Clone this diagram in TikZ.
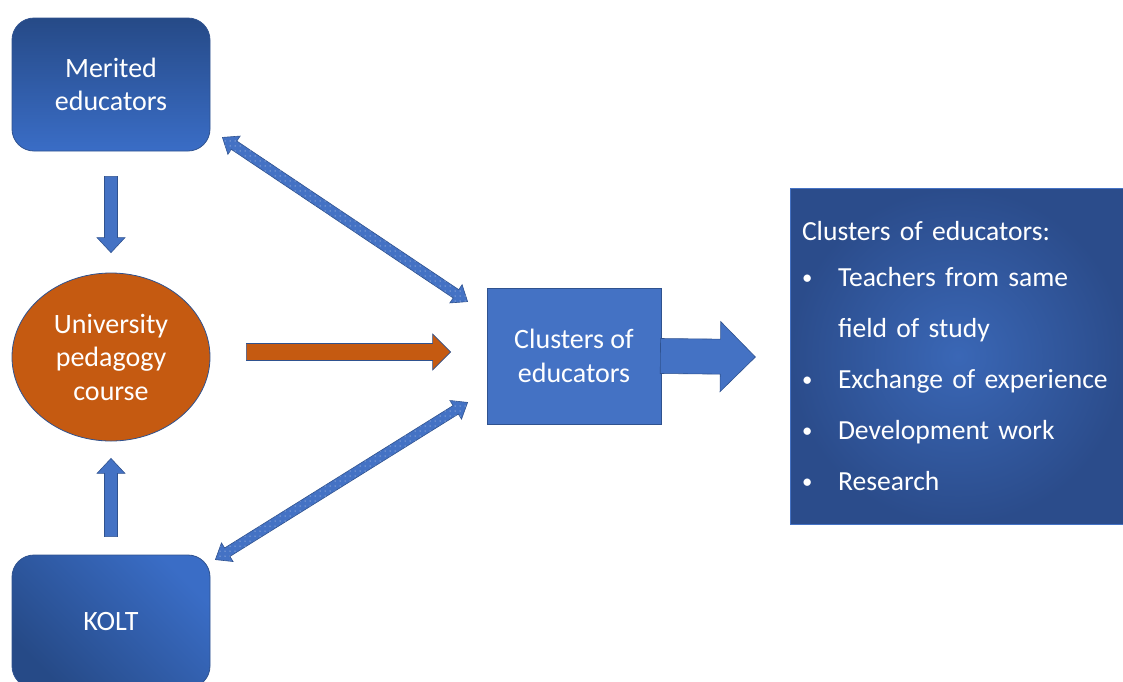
\documentclass[tikz,border=0pt]{standalone}
\usepackage{fontspec}
\setmainfont{Carlito}
\usetikzlibrary{calc,shapes.geometric,patterns.meta}

\definecolor{boxdark}{HTML}{264A87}
\definecolor{boxlight}{HTML}{3A6DC6}
\definecolor{flatblue}{HTML}{4472C4}
\definecolor{edgeblue}{HTML}{2F528F}
\definecolor{courseorange}{HTML}{C55A11}
\definecolor{listinner}{HTML}{3A67B6}
\definecolor{listouter}{HTML}{2B4C8B}

% block arrow: style, from, to, half shaft, half head, head length
\newcommand{\blockarrow}[6]{%
  \path[#1] let \p1=(#2), \p2=(#3),
    \n1={atan2(\y2-\y1,\x2-\x1)}, \n2={veclen(\x2-\x1,\y2-\y1)} in
    [shift={(\p1)}, rotate=\n1]
    (0pt,-#4pt) -- ({\n2-#6pt},-#4pt) -- ({\n2-#6pt},-#5pt) -- (\n2,0pt)
    -- ({\n2-#6pt},#5pt) -- ({\n2-#6pt},#4pt) -- (0pt,#4pt) -- cycle;}
% same with a head on both ends
\newcommand{\dblarrow}[6]{%
  \path[#1] let \p1=(#2), \p2=(#3),
    \n1={atan2(\y2-\y1,\x2-\x1)}, \n2={veclen(\x2-\x1,\y2-\y1)} in
    [shift={(\p1)}, rotate=\n1]
    (0pt,0pt) -- (#6pt,#5pt) -- (#6pt,#4pt) -- ({\n2-#6pt},#4pt) -- ({\n2-#6pt},#5pt)
    -- (\n2,0pt) -- ({\n2-#6pt},-#5pt) -- ({\n2-#6pt},-#4pt) -- (#6pt,-#4pt)
    -- (#6pt,-#5pt) -- cycle;}
\newcommand{\listbullet}{\makebox[36pt][l]{\raisebox{0.15ex}{\scalebox{0.75}{•}}}}

\tikzset{
  boxtext/.style={text=white, align=center, font=\fontsize{28}{33.5}\selectfont},
  roundbox/.style={boxtext, rectangle, rounded corners=22pt, draw=edgeblue, line width=0.8pt,
    minimum width=198pt, minimum height=133pt},
  blockfill/.style={fill=flatblue, draw=edgeblue, line width=0.6pt},
  orangefill/.style={fill=courseorange, draw=edgeblue, line width=0.6pt},
  dotfill/.style={blockfill, postaction={pattern={Dots[distance=5pt, radius=0.5pt]},
    pattern color=white!85!flatblue}},
}

\begin{document}
\begin{tikzpicture}[x=1pt, y=-1pt]
	\useasboundingbox (0,0) rectangle (1123,681);
	\clip (0,0) rectangle (1123,681);
	
	%Knoten links
	\node[roundbox, top color=boxdark, bottom color=boxlight] (merited) at (111,84.5) {Merited\\educators};
	\node[boxtext, ellipse, fill=courseorange, draw=edgeblue, line width=0.8pt, inner sep=0pt,
		minimum width=198pt, minimum height=168pt] (course) at (111,357) {University\\pedagogy\\course};
	\node[roundbox, top color=boxlight, bottom color=boxdark, shading angle=-45] (kolt) at (111,621.5) {KOLT};
	
	%Mitte und rechts
	\node[boxtext, rectangle, fill=flatblue, draw=edgeblue, line width=0.8pt,
		minimum width=174pt, minimum height=136pt] (cluster) at (574,356) {Clusters of\\educators};
	\node[rectangle, inner color=listinner, outer color=listouter, draw=flatblue, line width=1pt,
		minimum width=336pt, minimum height=336pt, inner xsep=12pt, text width=312pt,
		text=white, align=left, font=\fontsize{27.6}{51}\selectfont] (list) at (958,356)
		{Clusters of educators:\\[-5pt]
		 \listbullet Teachers from same\\
		 \hspace*{36pt}field of study\\
		 \listbullet Exchange of experience\\
		 \listbullet Development work\\
		 \listbullet Research};
	
	%Pfeile
	\coordinate (d1) at ($(merited.south)+(0,25)$);
	\coordinate (d2) at ($(course.north)+(0,-20)$);
	\coordinate (u1) at ($(kolt.north)+(0,-18)$);
	\coordinate (u2) at ($(course.south)+(0,17)$);
	\coordinate (o1) at ($(course.east)+(36,-5)$);
	\coordinate (o2) at ($(cluster.west)+(-36,-4)$);
	\coordinate (b1) at ($(cluster.east)+(-1,0)$);
	\coordinate (b2) at ($(cluster.east)+(94,1)$);
	\coordinate (t1) at ($(merited.south east)+(12,-14)$);
	\coordinate (t2) at ($(cluster.north west)+(-19,14)$);
	\coordinate (k1) at ($(kolt.north east)+(5,5)$);
	\coordinate (k2) at ($(cluster.south west)+(-19,-22)$);
	
	\blockarrow{blockfill}{d1}{d2}{6.5}{14}{15}
	\blockarrow{blockfill}{u1}{u2}{6.5}{14}{15}
	\blockarrow{orangefill}{o1}{o2}{8.5}{18}{18}
	\blockarrow{blockfill}{b1}{b2}{17.5}{35}{35}
	\dblarrow{dotfill}{t1}{t2}{5}{11}{14}
	\dblarrow{dotfill}{k1}{k2}{5}{11}{14}
\end{tikzpicture}
\end{document}
